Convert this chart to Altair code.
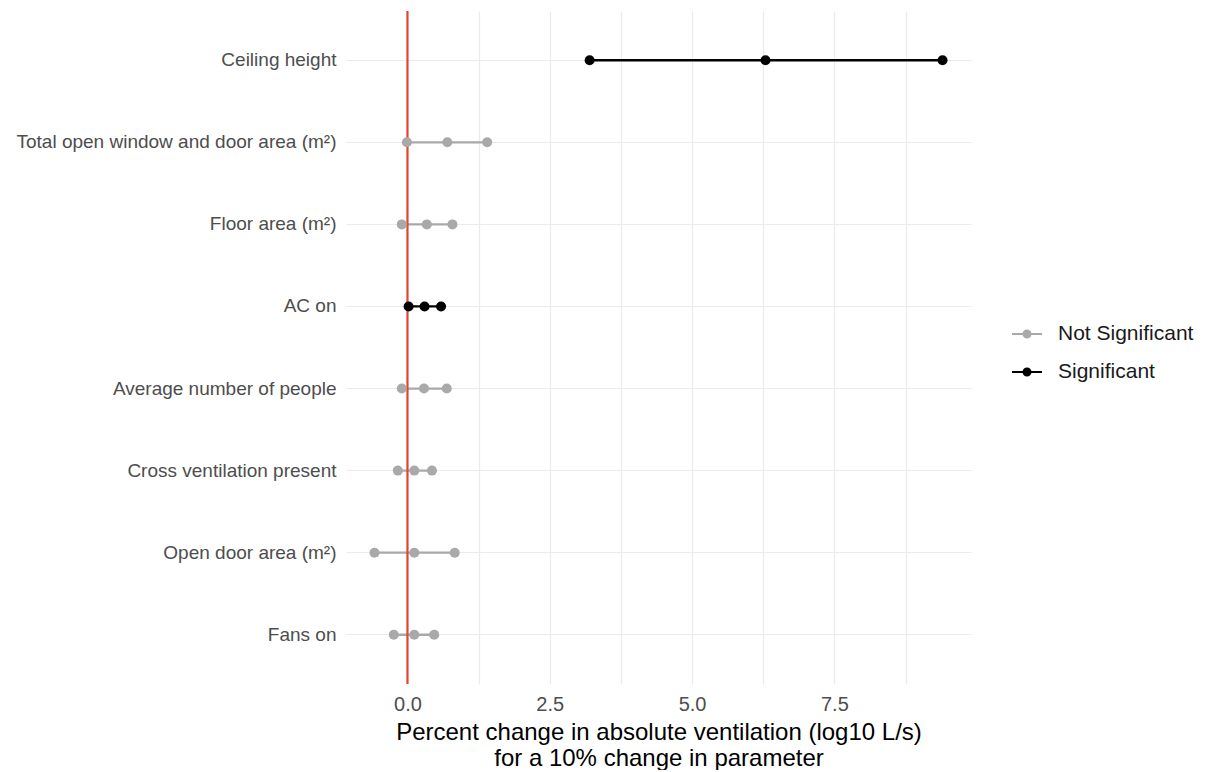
import altair as alt
import pandas as pd

labels = ["Ceiling height", "Total open window and door area (m²)", "Floor area (m²)",
          "AC on", "Average number of people", "Cross ventilation present",
          "Open door area (m²)", "Fans on"]
low = [3.20, -0.01, -0.10, 0.02, -0.10, -0.17, -0.58, -0.24]
mid = [6.29, 0.70, 0.34, 0.30, 0.29, 0.12, 0.12, 0.12]
high = [9.40, 1.40, 0.79, 0.59, 0.69, 0.43, 0.83, 0.47]
signif = ["Significant", "Not Significant", "Not Significant", "Significant",
          "Not Significant", "Not Significant", "Not Significant", "Not Significant"]
groups = ["Not Significant", "Significant"]

wide = pd.DataFrame({"label": labels, "low": low, "mid": mid, "high": high, "sig": signif})
long = wide.melt(id_vars=["label", "sig"], value_vars=["low", "mid", "high"],
                 var_name="kind", value_name="value")

font = "Liberation Sans"
cscale = alt.Scale(domain=groups, range=["#A9A9A9", "#000000"])
color = alt.Color("sig:N", scale=cscale,
                  legend=alt.Legend(title=None, orient="none", legendX=666, legendY=308,
                                    labelFontSize=21, labelColor="#1a1a1a", labelFont=font,
                                    symbolType="M-1,-0.07H1V0.07H-1Z M0.3,0A0.3,0.3 0 1,1 -0.3,0A0.3,0.3 0 1,1 0.3,0Z",
                                    symbolSize=900, symbolStrokeWidth=0, rowPadding=13,
                                    labelOffset=16))

xscale = alt.Scale(domain=[-1.08, 9.9], nice=False, zero=False)
yscale = alt.Scale(type="band", domain=labels, paddingInner=0, paddingOuter=0.1)

xaxis = alt.Axis(values=[0, 1.25, 2.5, 3.75, 5, 6.25, 7.5, 8.75],
                 labelExpr="datum.value % 2.5 == 0 ? format(datum.value, '.1f') : ''",
                 title=["Percent change in absolute ventilation (log10 L/s)",
                        "for a 10% change in parameter"],
                 titleFontSize=24, titleFontWeight="normal", titleColor="#000000",
                 titleFont=font, titlePadding=6, titleLineHeight=26,
                 labelFontSize=20, labelColor="#4D4D4D", labelFont=font, labelPadding=10,
                 domain=False, ticks=False, grid=True, gridColor="#EBEBEB", gridWidth=1.2)
yaxis = alt.Axis(title=None, labelFontSize=19, labelColor="#4D4D4D", labelFont=font,
                 labelPadding=10, labelLimit=500, domain=False, ticks=False, grid=True,
                 gridColor="#EBEBEB", gridWidth=1.2)

rules = alt.Chart(wide).mark_rule(strokeWidth=2.3).encode(
    x=alt.X("low:Q", scale=xscale, axis=xaxis),
    x2="high:Q",
    y=alt.Y("label:N", scale=yscale, axis=yaxis, sort=labels),
    color=color,
)

points = alt.Chart(long).mark_circle(size=100, opacity=1).encode(
    x=alt.X("value:Q", scale=xscale),
    y=alt.Y("label:N", scale=yscale, sort=labels),
    color=alt.Color("sig:N", scale=cscale, legend=None),
)

zero = alt.Chart(pd.DataFrame({"z": [0]})).mark_rule(color="#E0452F", strokeWidth=2.2).encode(
    x=alt.X("z:Q", scale=xscale)
)

chart = alt.layer(rules, zero, points).properties(
    width=625, height=673,
    padding={"top": 1, "left": 7, "right": 5, "bottom": 0},
).configure(font=font).configure_view(stroke=None)

chart.save("out.html", embed_options={"renderer": "svg", "actions": False})
